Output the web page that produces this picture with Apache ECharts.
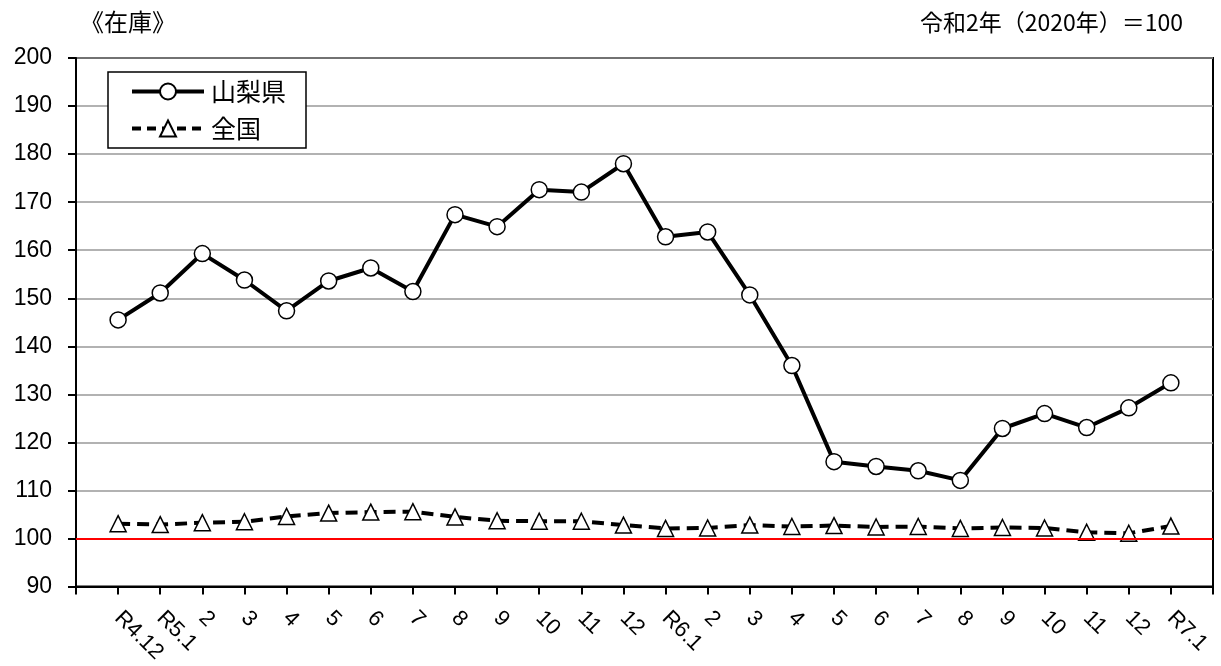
<!DOCTYPE html>
<html><head><meta charset="utf-8">
<script src="https://cdn.jsdelivr.net/npm/echarts@6/dist/echarts.min.js"></script>
<style>html,body{margin:0;padding:0;background:#fff}#c{width:1221px;height:666px}</style>
</head><body><div id="c"></div>
<script>
const categories = ['', 'R4.12', 'R5.1', '2', '3', '4', '5', '6', '7', '8', '9', '10', '11', '12', 'R6.1', '2', '3', '4', '5', '6', '7', '8', '9', '10', '11', '12', 'R7.1', ''];
const yamanashi = [null, 145.5, 151.1, 159.3, 153.8, 147.4, 153.6, 156.3, 151.4, 167.4, 164.9, 172.6, 172.1, 178.0, 162.8, 163.8, 150.7, 136.0, 116.0, 115.0, 114.1, 112.1, 122.9, 126.0, 123.1, 127.2, 132.4, null];
const national = [null, 103.1, 102.9, 103.3, 103.5, 104.6, 105.3, 105.5, 105.6, 104.5, 103.7, 103.6, 103.6, 102.8, 102.1, 102.2, 102.8, 102.5, 102.7, 102.4, 102.5, 102.1, 102.3, 102.2, 101.3, 101.1, 102.6, null];
const seriesNames = ['山梨県', '全国'];
const baseValue = 100;
const titleText = '《在庫》';
const noteText = '令和2年（2020年）＝100';

const JP = '"Noto Sans CJK JP", sans-serif';
const NUM = '"Liberation Sans", Arial, sans-serif';
const chart = echarts.init(document.getElementById('c'), null, {renderer: 'canvas'});
chart.setOption({
  animation: false,
  backgroundColor: '#fff',
  textStyle: {fontFamily: JP},
  graphic: [
    {type: 'text', left: 80, top: 10, style: {text: titleText, fontSize: 24, fontFamily: JP, fill: '#000'}},
    {type: 'text', right: 38, top: 11, style: {text: noteText, fontSize: 23, fontFamily: JP, fill: '#000'}}
  ],
  grid: {left: 76, right: 8, top: 58, bottom: 79, show: true, borderColor: '#000', borderWidth: 2, backgroundColor: 'transparent'},
  legend: {
    orient: 'vertical', left: 108, top: 72,
    padding: [7, 20, 7, 22], itemGap: 12, itemWidth: 72, itemHeight: 20,
    borderColor: '#000', borderWidth: 1.5, backgroundColor: '#fff',
    textStyle: {fontSize: 25, color: '#000', fontFamily: JP, padding: [0, 0, 0, 2]},
    data: [
      {name: seriesNames[0], lineStyle: {width: 4, color: '#000'}},
      {name: seriesNames[1], lineStyle: {width: 4, color: '#000', type: [9, 6]}}
    ]
  },
  xAxis: {
    type: 'category', data: categories, boundaryGap: false,
    axisLine: {lineStyle: {color: '#000', width: 2}},
    axisTick: {show: true, interval: 0, length: 8, inside: false, lineStyle: {color: '#000', width: 2}},
    axisLabel: {interval: 0, rotate: -45, color: '#000', fontSize: 22, fontFamily: NUM, margin: 28, align: 'left'},
    splitLine: {show: false}
  },
  yAxis: {
    type: 'value', min: 90, max: 200, interval: 10,
    axisLine: {show: true, lineStyle: {color: '#000', width: 2}},
    axisTick: {show: true, length: 8, lineStyle: {color: '#000', width: 2}},
    axisLabel: {color: '#000', fontSize: 23, fontFamily: NUM, margin: 24},
    splitLine: {show: true, lineStyle: {color: '#999', width: 1.5}}
  },
  series: [
    {
      name: seriesNames[0], type: 'line', data: yamanashi, z: 5,
      symbol: 'circle', symbolSize: 16, showAllSymbol: true,
      lineStyle: {color: '#000', width: 4},
      itemStyle: {color: '#fff', borderColor: '#000', borderWidth: 1.5}
    },
    {
      name: seriesNames[1], type: 'line', data: national, z: 4,
      symbol: 'triangle', symbolSize: 16, showAllSymbol: true,
      lineStyle: {color: '#000', width: 4, type: [12, 7]},
      itemStyle: {color: '#fff', borderColor: '#000', borderWidth: 1.5},
      markLine: {
        silent: true, symbol: 'none', label: {show: false},
        lineStyle: {color: '#ff0000', width: 2, type: 'solid'},
        data: [{yAxis: baseValue}]
      }
    }
  ]
});
</script></body></html>
